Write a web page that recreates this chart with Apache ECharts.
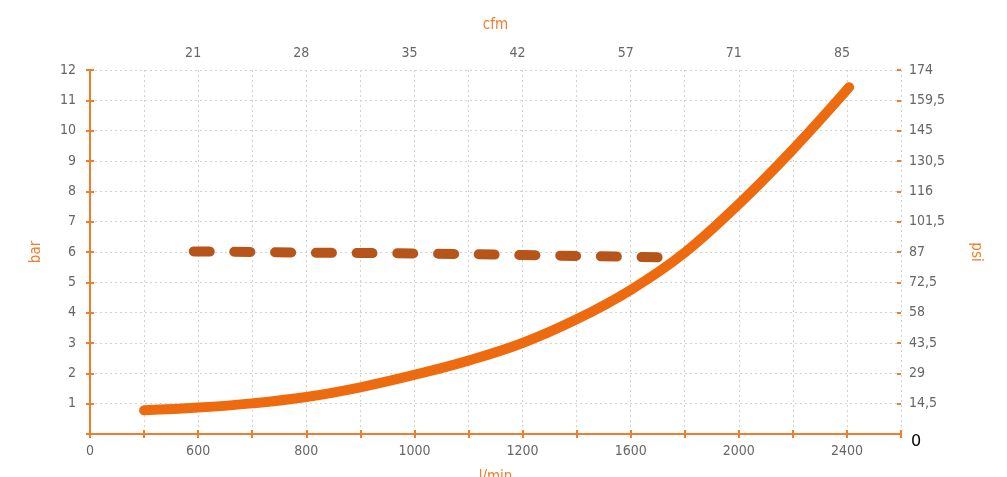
<!DOCTYPE html>
<html>
<head>
<meta charset="utf-8">
<script src="https://cdn.jsdelivr.net/npm/echarts@6/dist/echarts.min.js"></script>
<style>
  html, body { margin: 0; padding: 0; background: #fff; }
  #chart { width: 1007px; height: 477px; }
</style>
</head>
<body>
<div id="chart"></div>
<script>
// Tick labels for the lower (l/min) and upper (cfm) scales, one entry per tick position
const flowLabels = ['0', '', '600', '', '800', '', '1000', '', '1200', '', '1600', '', '2000', '', '2400', ''];
const cfmLabels = ['', '', '21', '', '28', '', '35', '', '42', '', '57', '', '71', '', '85', ''];

// Pressure curve: [tick position, bar]
const pressureCurve = [
  [1.0, 0.78], [2.0, 0.87], [3.0, 1.01], [4.0, 1.22], [5.0, 1.54],
  [6.0, 1.95], [7.0, 2.42], [8.0, 3.0], [9.0, 3.78], [10.0, 4.75],
  [11.0, 5.98], [12.0, 7.58], [13.0, 9.38], [14.04, 11.43]
];

// Working pressure (dashed): [tick position, bar]
const workingPressure = [
  [1.92, 6.02], [4.0, 5.98], [6.0, 5.95], [8.0, 5.9], [10.65, 5.82]
];

const ORANGE = '#ED6B0E';
const AXIS = '#F07D2A';
const TEXT = '#666666';
const FONT = "'DejaVu Sans Condensed', 'Liberation Sans Narrow', 'Roboto', sans-serif";

const chart = echarts.init(document.getElementById('chart'), null, { renderer: 'canvas' });

const gridLine = { show: true, lineStyle: { color: '#d2d2d2', type: [2, 3], width: 1 } };
const labelStyle = { color: TEXT, fontFamily: FONT, fontSize: 14 };

chart.setOption({
  animation: false,
  grid: { left: 90, right: 106, top: 70, bottom: 43, containLabel: false, outerBoundsMode: 'none' },
  xAxis: [
    {
      type: 'value', min: 0, max: 15, interval: 1, position: 'bottom',
      name: 'l/min', nameLocation: 'middle', nameGap: 36,
      nameTextStyle: { color: AXIS, fontFamily: FONT, fontSize: 15 },
      axisLine: { show: true, lineStyle: { color: AXIS, width: 2 } },
      axisTick: { show: true, length: 4, lineStyle: { color: AXIS, width: 2 } },
      axisLabel: Object.assign({ formatter: v => flowLabels[v] || '', margin: 10 }, labelStyle),
      splitLine: gridLine
    },
    {
      type: 'value', min: 0, max: 15, interval: 1, position: 'top',
      name: 'cfm', nameLocation: 'middle', nameGap: 37,
      nameTextStyle: { color: AXIS, fontFamily: FONT, fontSize: 15 },
      axisLine: { show: true, lineStyle: { color: AXIS, width: 2 } },
      axisTick: { show: false },
      axisLabel: Object.assign({ formatter: v => cfmLabels[v] || '', margin: 10, padding: [0, 10, 0, 0] }, labelStyle),
      splitLine: { show: false }
    },
    {
      type: 'value', min: 0, max: 15, interval: 1, position: 'bottom',
      axisLine: { show: false },
      axisTick: { show: true, inside: true, length: 4, lineStyle: { color: AXIS, width: 2 } },
      axisLabel: { show: false },
      splitLine: { show: false }
    }
  ],
  yAxis: [
    {
      type: 'value', min: 0, max: 12, interval: 1, position: 'left',
      name: 'bar', nameLocation: 'middle', nameGap: 46, nameRotate: 90,
      nameTextStyle: { color: AXIS, fontFamily: FONT, fontSize: 15 },
      axisLine: { show: true, lineStyle: { color: AXIS, width: 2 } },
      axisTick: { show: true, length: 4, lineStyle: { color: AXIS, width: 2 } },
      axisLabel: Object.assign({ formatter: v => (v === 0 ? '' : String(v)), margin: 14 }, labelStyle),
      splitLine: gridLine
    },
    {
      type: 'value', min: 0, max: 174, interval: 14.5, position: 'right',
      name: 'psi', nameLocation: 'middle', nameGap: 67, nameRotate: -90,
      nameTextStyle: { color: AXIS, fontFamily: FONT, fontSize: 15 },
      axisLine: { show: true, lineStyle: { color: AXIS, width: 2 } },
      axisTick: { show: true, length: 4, lineStyle: { color: AXIS, width: 2 } },
      axisLabel: Object.assign({
        margin: 8,
        formatter: v => (v === 0 ? '{z|0}' : String(v).replace('.', ',')),
        rich: { z: { color: '#000', fontFamily: 'DejaVu Sans', fontSize: 16, padding: [16, 0, 0, 2] } }
      }, labelStyle),
      splitLine: { show: false }
    },
    {
      type: 'value', min: 0, max: 12, interval: 1, position: 'left',
      axisLine: { show: false },
      axisTick: { show: true, inside: true, length: 4, lineStyle: { color: AXIS, width: 2 } },
      axisLabel: { show: false },
      splitLine: { show: false }
    },
    {
      type: 'value', min: 0, max: 174, interval: 14.5, position: 'right',
      axisLine: { show: false },
      axisTick: { show: true, inside: true, length: 4, lineStyle: { color: AXIS, width: 2 } },
      axisLabel: { show: false },
      splitLine: { show: false }
    }
  ],
  series: [
    {
      type: 'line', xAxisIndex: 0, yAxisIndex: 0,
      data: workingPressure,
      showSymbol: false, smooth: true,
      lineStyle: { color: '#B6541A', width: 10, type: [16, 24.7], cap: 'round' },
      z: 3
    },
    {
      type: 'line', xAxisIndex: 0, yAxisIndex: 0,
      data: pressureCurve,
      showSymbol: false, smooth: 0.4,
      lineStyle: { color: ORANGE, width: 10, cap: 'round', join: 'round' },
      z: 4
    }
  ]
});
</script>
</body>
</html>
